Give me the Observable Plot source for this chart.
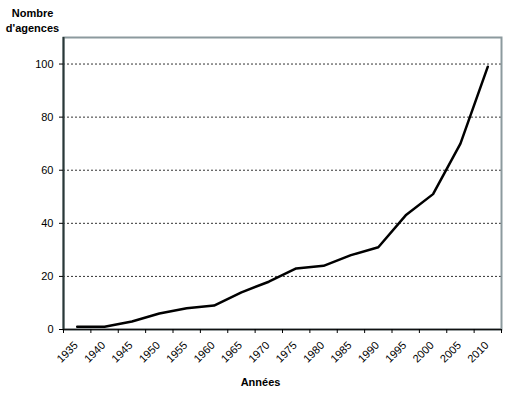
<!DOCTYPE html>
<html>
<head>
<meta charset="utf-8">
<script src="https://cdn.jsdelivr.net/npm/d3@7"></script>
<script src="https://cdn.jsdelivr.net/npm/@observablehq/plot@0.6"></script>
<style>
  html, body { margin: 0; padding: 0; background: white; }
</style>
</head>
<body>
<div id="chart"></div>
<script>
const years = [1935, 1940, 1945, 1950, 1955, 1960, 1965, 1970, 1975, 1980, 1985, 1990, 1995, 2000, 2005, 2010];
const agences = [1, 1, 3, 6, 8, 9, 14, 18, 23, 24, 28, 31, 43, 51, 70, 99];
const yTicks = [0, 20, 40, 60, 80, 100];
const gridTicks = [20, 40, 60, 80, 100];
const yTitle = "Nombre\nd'agences";
const xTitle = "Années";

const catEdges = years.map(y => y - 2.5).concat([years[years.length - 1] + 2.5]);
const rows = years.map((y, i) => ({year: y, n: agences[i]}));

const chart = Plot.plot({
  width: 514,
  height: 396,
  marginLeft: 63,
  marginRight: 13,
  marginTop: 37,
  marginBottom: 67,
  x: {domain: [catEdges[0], catEdges[catEdges.length - 1]]},
  y: {domain: [0, 110]},
  style: {fontFamily: "'Liberation Sans', Arial, sans-serif", fontSize: "11px", background: "white", color: "black"},
  marks: [
    Plot.gridY(gridTicks, {stroke: "#333", strokeOpacity: 1, strokeDasharray: "2,2"}),
    Plot.frame({stroke: "#8c9a9e", strokeWidth: 2}),
    Plot.ruleX([catEdges[0]], {stroke: "#2b3838", strokeWidth: 2}),
    Plot.ruleY([0], {stroke: "#111", strokeWidth: 1.5}),
    Plot.axisY(yTicks, {tickSize: 4, tickPadding: 6, fontSize: 11, label: null}),
    Plot.axisX(catEdges, {tickSize: 4, tickFormat: () => "", label: null}),
    Plot.axisX(years, {tickSize: 0, tickPadding: 14, tickRotate: -45, dx: -1, fontSize: 11, tickFormat: d => String(d), label: null}),
    Plot.line(rows, {x: "year", y: "n", stroke: "black", strokeWidth: 2.5}),
    Plot.text([yTitle], {text: d => d, frameAnchor: "top-left", dx: -31, dy: -17.5, fontWeight: "bold", fontSize: 11, lineHeight: 1.36, textAnchor: "middle", lineAnchor: "middle"}),
    Plot.text([xTitle], {text: d => d, frameAnchor: "bottom", dx: -22, dy: 56, fontWeight: "bold", fontSize: 11})
  ]
});
document.getElementById("chart").appendChild(chart);
</script>
</body>
</html>
